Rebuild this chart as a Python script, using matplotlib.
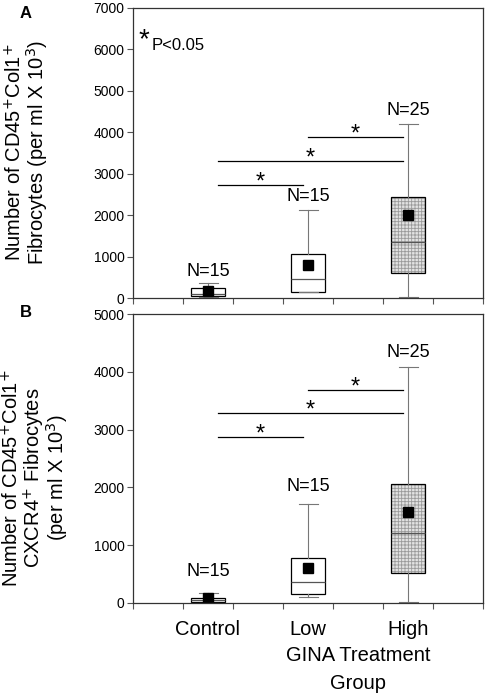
import matplotlib.pyplot as plt
from matplotlib.ticker import MultipleLocator

plt.rcParams['font.family'] = ['Liberation Sans', 'DejaVu Sans']
plt.rcParams['hatch.linewidth'] = 0.6

groups = ['Control', 'Low', 'High']
n_labels = ['N=15', 'N=15', 'N=25']
pos = [1.5, 3.5, 5.5]

# panel A: CD45+Col1+ fibrocytes
a_whislo = [20, 140, 20]
a_q1 = [48, 150, 600]
a_med = [100, 460, 1350]
a_q3 = [240, 1060, 2440]
a_whishi = [360, 2120, 4200]
a_mean = [170, 800, 2000]
a_n_y = [650, 2460, 4520]
a_sig = [(3.5, 5.4, 3890), (1.7, 5.4, 3310), (1.7, 3.4, 2730)]
a_ylabel = ['Number of CD45$^{+}$Col1$^{+}$', 'Fibrocytes (per ml X 10$^{3}$)']

# panel B: CD45+Col1+CXCR4+ fibrocytes
b_whislo = [5, 100, 15]
b_q1 = [20, 156, 520]
b_med = [50, 365, 1210]
b_q3 = [86, 780, 2060]
b_whishi = [175, 1710, 4090]
b_mean = [90, 600, 1580]
b_n_y = [540, 2010, 4330]
b_sig = [(3.5, 5.4, 3685), (1.7, 5.4, 3290), (1.7, 3.4, 2870)]
b_ylabel = ['Number of CD45$^{+}$Col1$^{+}$', 'CXCR4$^{+}$ Fibrocytes',
            '(per ml X 10$^{3}$)']


def panel(ax, whislo, q1, med, q3, whishi, mean, n_y, sig, ymax, star_off):
    stats = []
    for i in range(3):
        stats.append(dict(whislo=whislo[i], q1=q1[i], med=med[i], q3=q3[i],
                          whishi=whishi[i], mean=mean[i], fliers=[]))
    # stippled fill for the high group
    ax.bar(pos[2], q3[2] - q1[2], bottom=q1[2], width=0.68, color='#e2e2e2',
           edgecolor='#9a9a9a', hatch='+++++', linewidth=0, zorder=1)
    ax.bxp(stats, positions=pos, widths=0.68, showmeans=True, patch_artist=True,
           boxprops=dict(facecolor='none', edgecolor='black', linewidth=0.9),
           medianprops=dict(color='#555555', linewidth=0.9),
           whiskerprops=dict(color='#777777', linewidth=0.8),
           capprops=dict(color='#777777', linewidth=0.8),
           meanprops=dict(marker='s', markerfacecolor='black', markeredgecolor='black',
                          markersize=7),
           capwidths=0.38, zorder=2)
    for x, y, t in zip(pos, n_y, n_labels):
        ax.text(x, y, t, ha='center', va='center', fontsize=13)
    for x0, x1, y in sig:
        ax.plot([x0, x1], [y, y], color='black', linewidth=0.9)
        ax.text((x0 + x1) / 2, y + star_off, '*', ha='center', va='center',
                fontsize=17)
    ax.set_xlim(0, 7)
    ax.set_ylim(0, ymax)
    ax.yaxis.set_major_locator(MultipleLocator(1000))
    ax.set_xticks(range(8))
    ax.set_xticklabels([])
    ax.tick_params(axis='both', direction='out', length=4, width=0.8,
                   colors='#555555', labelcolor='black', labelsize=10, pad=2)
    for s in ax.spines.values():
        s.set_linewidth(0.9)
        s.set_color('#333333')


W, H = 487, 700
fig = plt.figure(figsize=(4.87, 7), dpi=100)
axA = fig.add_axes([133 / W, 1 - 298 / H, 350 / W, 290 / H])
axB = fig.add_axes([133 / W, 1 - 603 / H, 350 / W, 289 / H])

panel(axA, a_whislo, a_q1, a_med, a_q3, a_whishi, a_mean, a_n_y, a_sig, 7000, 60)
panel(axB, b_whislo, b_q1, b_med, b_q3, b_whishi, b_mean, b_n_y, b_sig, 5000, 43)

# y labels, one rotated line each, placed by baseline
for x, t in zip([21, 44], a_ylabel):
    fig.text(x / W, 1 - 152 / H, t, rotation=90, rotation_mode='anchor',
             ha='center', va='baseline', fontsize=14.5)
for x, t in zip([18, 40, 64], b_ylabel):
    fig.text(x / W, 1 - 478 / H, t, rotation=90, rotation_mode='anchor',
             ha='center', va='baseline', fontsize=14.5)

axB.set_xticks(pos, minor=True)
axB.set_xticklabels(groups, minor=True)
axB.tick_params(axis='x', which='minor', length=0, labelsize=14.5, pad=12)
axB.set_xlabel('GINA Treatment\nGroup', fontsize=14.5, linespacing=1.6)
axB.xaxis.set_label_coords(0.643, -0.15)
axB.xaxis.label.set_va('top')

axA.text(0.015, 0.89, '*', transform=axA.transAxes, fontsize=20, ha='left', va='center')
axA.text(0.054, 0.872, 'P<0.05', transform=axA.transAxes, fontsize=12, ha='left',
         va='center')

fig.text(20 / W, 1 - 14 / H, 'A', fontsize=12, fontweight='bold', ha='left', va='center')
fig.text(20 / W, 1 - 313 / H, 'B', fontsize=12, fontweight='bold', ha='left', va='center')

fig.savefig('out.png', dpi=100)
